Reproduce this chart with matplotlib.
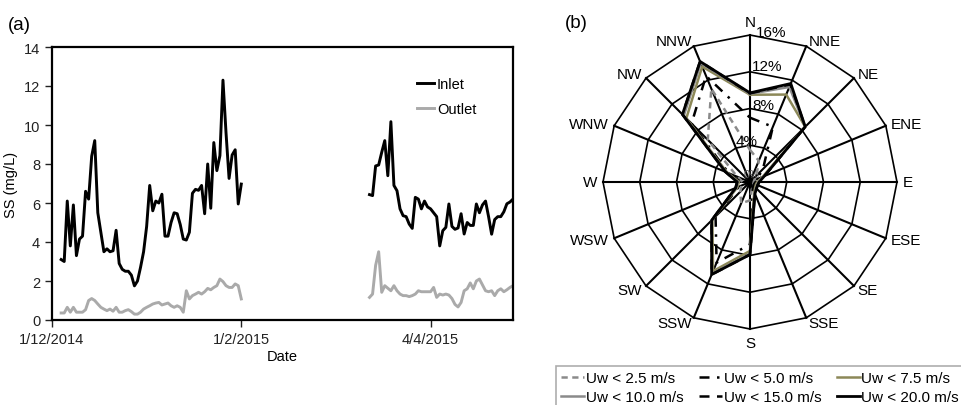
import numpy as np
import pandas as pd
import matplotlib
matplotlib.use("Agg")
import matplotlib.pyplot as plt

plt.rcParams['font.family'] = ['Liberation Sans', 'DejaVu Sans']

# ---------------- Panel (a) data ----------------
seg1_start = '2014-12-04'
inlet_seg1 = [3.1, 3.0, 6.1, 3.8, 5.9, 3.3, 4.15, 4.3, 6.6, 6.2,
              8.4, 9.2, 5.5, 4.5, 3.5, 3.65, 3.5, 3.55, 4.6, 2.9,
              2.6, 2.5, 2.5, 2.3, 1.75, 2.0, 2.7, 3.5, 4.8, 6.9,
              5.6, 6.1, 6.0, 6.45, 4.3, 4.3, 5.0, 5.5, 5.45, 4.9,
              4.15, 4.1, 4.5, 6.5, 6.7, 6.65, 6.9, 5.45, 8.0, 5.73,
              9.1, 7.66, 8.43, 12.3, 9.6, 7.26, 8.46, 8.73, 5.95, 6.97]
outlet_seg1 = [0.36, 0.36, 0.65, 0.4, 0.65, 0.4, 0.4, 0.4, 0.53, 1.0,
               1.1, 1.0, 0.82, 0.65, 0.56, 0.48, 0.56, 0.45, 0.65, 0.4,
               0.4, 0.48, 0.53, 0.43, 0.3, 0.3, 0.4, 0.56, 0.65, 0.73,
               0.82, 0.87, 0.9, 0.77, 0.82, 0.87, 0.73, 0.65, 0.73, 0.65,
               0.4, 1.5, 1.08, 1.25, 1.33, 1.42, 1.33, 1.45, 1.62, 1.55,
               1.67, 1.76, 2.1, 1.97, 1.76, 1.67, 1.67, 1.85, 1.76, 1.08]
seg2_start = '2015-03-15'
inlet_seg2 = [6.43, 6.38, 7.9, 7.95, 8.6, 9.2, 7.4, 10.17, 6.9, 6.63,
              5.7, 5.35, 5.3, 4.92, 4.7, 6.29, 6.2, 5.7, 6.1, 5.8,
              5.7, 5.5, 5.3, 3.8, 4.58, 4.75, 5.95, 4.8, 4.65, 4.72,
              5.45, 4.41, 5.0, 4.85, 4.85, 5.95, 5.5, 5.9, 6.1, 5.3,
              4.4, 5.15, 5.3, 5.3, 5.55, 5.96, 6.05, 6.2]
outlet_seg2 = [1.16, 1.33, 2.8, 3.5, 1.42, 1.76, 1.63, 1.5, 1.76, 1.5,
               1.33, 1.25, 1.25, 1.2, 1.25, 1.33, 1.5, 1.45, 1.45, 1.45,
               1.45, 1.67, 1.16, 1.33, 1.28, 1.33, 1.28, 1.1, 0.8, 0.67,
               0.9, 1.5, 1.6, 1.9, 1.6, 2.0, 2.1, 1.8, 1.5, 1.45,
               1.5, 1.25, 1.5, 1.6, 1.45, 1.55, 1.67, 1.76]
x_range = ['2014-12-01', '2015-05-01']
tick_dates = ['2014-12-01', '2015-02-01', '2015-04-04']
tick_labels = ['1/12/2014', '1/2/2015', '4/4/2015']

# ---------------- Panel (b) data ----------------
directions = ['N', 'NNE', 'NE', 'ENE', 'E', 'ESE', 'SE', 'SSE',
              'S', 'SSW', 'SW', 'WSW', 'W', 'WNW', 'NW', 'NNW']
ring_values = [4, 8, 12, 16]
ring_labels = ['4%', '8%', '12%', '16%']
uw_2_5 = [3.5, 2.5, 1.0, 0.5, 0.4, 0.4, 0.5, 0.6, 2.0, 2.5, 1.5, 1.0, 0.8, 1.5, 6.5, 11.0]
uw_5_0 = [7.0, 6.5, 2.0, 0.8, 0.6, 0.5, 0.6, 0.8, 6.8, 9.5, 5.3, 1.3, 1.0, 2.5, 9.0, 12.5]
uw_7_5 = [9.5, 10.3, 8.5, 1.5, 0.8, 0.7, 0.8, 1.2, 7.5, 10.5, 5.8, 1.5, 1.2, 2.7, 9.8, 13.6]
uw_10_0 = [9.6, 11.2, 8.5, 1.6, 0.9, 0.8, 0.9, 1.3, 7.8, 10.8, 5.9, 1.6, 1.3, 2.8, 10.2, 14.0]
uw_15_0 = [9.65, 11.5, 8.5, 1.7, 1.0, 0.9, 1.0, 1.4, 7.9, 10.9, 5.9, 1.7, 1.4, 2.9, 10.4, 14.2]
uw_20_0 = [9.7, 11.6, 8.5, 1.7, 1.0, 0.9, 1.0, 1.4, 7.9, 10.9, 5.9, 1.7, 1.4, 2.9, 10.4, 14.2]
series_labels = ['Uw < 2.5 m/s', 'Uw < 5.0 m/s', 'Uw < 7.5 m/s',
                 'Uw < 10.0 m/s', 'Uw < 15.0 m/s', 'Uw < 20.0 m/s']

W, H = 962, 406
fig = plt.figure(figsize=(W / 100, H / 100), dpi=100)

# ================= Panel (a) =================
ax = fig.add_axes([52 / W, (H - 321) / H, 461 / W, 273 / H])
d1 = pd.date_range(seg1_start, periods=len(inlet_seg1), freq='D')
d2 = pd.date_range(seg2_start, periods=len(inlet_seg2), freq='D')
ax.plot(d1, inlet_seg1, color='black', lw=2.1, label='Inlet')
ax.plot(d2, inlet_seg2, color='black', lw=2.1)
ax.plot(d1, outlet_seg1, color='#aaaaaa', lw=2.1, label='Outlet')
ax.plot(d2, outlet_seg2, color='#aaaaaa', lw=2.1)
ax.set_xlim(pd.Timestamp(x_range[0]), pd.Timestamp(x_range[1]))
ax.set_ylim(0, 14)
ax.set_yticks(range(0, 15, 2))
ax.set_xticks([pd.Timestamp(t) for t in tick_dates])
ax.set_xticklabels(tick_labels)
ax.tick_params(axis='both', labelsize=10.5, direction='out', length=5, width=1,
               colors='#222222')
for s in ax.spines.values():
    s.set_linewidth(1.6)
ax.set_xlabel('Date', fontsize=10.5, labelpad=2)
ax.set_ylabel('SS (mg/L)', fontsize=10.5, labelpad=4)
ax.legend(loc='upper left', bbox_to_anchor=(0.792, 0.89), frameon=False,
          fontsize=10.5, handlelength=1.15, handletextpad=0.2,
          borderpad=0, borderaxespad=0, labelspacing=0.75)
fig.text(8 / W, 1 - 25 / H, '(a)', fontsize=13.5, va='center', ha='left')

# ================= Panel (b) =================
cx, cy, R = 750, 183, 147
pax = fig.add_axes([(cx - R) / W, (H - cy - R) / H, 2 * R / W, 2 * R / H],
                   projection='polar')
pax.set_theta_zero_location('N')
pax.set_theta_direction(-1)
pax.set_ylim(0, 16)
pax.axis('off')

theta = np.deg2rad(np.arange(len(directions)) * 22.5)
theta_c = np.append(theta, theta[0])

# polygonal grid rings
for rv in ring_values:
    pax.plot(theta_c, [rv] * len(theta_c), color='black', lw=1.2, zorder=1,
             clip_on=False)
# spokes
for th in theta:
    pax.plot([th, th], [0, ring_values[-1]], color='black', lw=1.5, zorder=1,
             clip_on=False)

styles = [
    dict(color='#8a8a8a', lw=1.8, ls=(0, (2.5, 1.8))),
    dict(color='black', lw=1.8, ls=(0, (4, 3, 1, 3))),
    dict(color='#8c8858', lw=1.8, ls='-'),
    dict(color='#8a8a8a', lw=1.8, ls='-'),
    dict(color='black', lw=1.8, ls=(0, (4, 3))),
    dict(color='black', lw=2.0, ls='-'),
]
series = [uw_2_5, uw_5_0, uw_7_5, uw_10_0, uw_15_0, uw_20_0]
handles = []
for vals, st, lab in zip(series, styles, series_labels):
    v = np.append(vals, vals[0])
    h, = pax.plot(theta_c, v, label=lab, zorder=3, clip_on=False, **st)
    handles.append(h)

# ring labels
ring_pos = {4: (-4, 4.5), 8: (9.6, 8.5), 12: (8.3, 12.8), 16: (8.0, 16.5)}
for rv, lab in zip(ring_values, ring_labels):
    ang, rr = ring_pos[rv]
    pax.text(np.deg2rad(ang), rr, lab, fontsize=11, ha='center', va='center',
             zorder=5)
pax.text(np.deg2rad(10), 0.9, '0%', fontsize=8, ha='center', va='center',
         color='#555555', zorder=2)

# direction labels
for th, lab in zip(theta, directions):
    s = np.sin(th)
    if lab == 'N':
        pax.text(th, 16.6, lab, fontsize=11, ha='center', va='bottom')
        continue
    if lab == 'S':
        pax.text(th, 16.8, lab, fontsize=11, ha='center', va='top')
        continue
    ha = 'left' if s > 0.1 else 'right'
    pax.text(th, 16.6, lab, fontsize=11, ha=ha, va='center')

fig.text(565 / W, 1 - 24 / H, '(b)', fontsize=13.5, va='center', ha='left')

# legend filled row-wise (matplotlib fills columns, so reorder)
order = [0, 3, 1, 4, 2, 5]
leg = fig.legend(handles=[handles[i] for i in order], loc='upper left',
                 bbox_to_anchor=(556 / W, 1 - 367 / H), ncol=3,
                 fontsize=11, handlelength=1.5, handletextpad=0.12,
                 columnspacing=1.0, labelspacing=0.3, borderpad=0.35,
                 frameon=True, fancybox=False, borderaxespad=0)
leg.get_frame().set_edgecolor('#999999')
leg.get_frame().set_linewidth(1.2)

fig.savefig('out.png', dpi=100)
